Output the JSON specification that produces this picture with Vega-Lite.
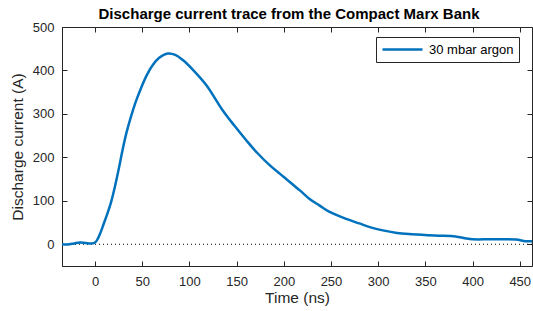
{
  "$schema": "https://vega.github.io/schema/vega-lite/v6.json",
  "width": 470,
  "height": 239,
  "autosize": {"type": "none"},
  "padding": {"left": 62, "top": 27, "right": 1, "bottom": 45},
  "background": "white",
  "title": {
    "text": "Discharge current trace from the Compact Marx Bank",
    "font": "Liberation Sans",
    "fontSize": 15,
    "fontWeight": "bold",
    "color": "#000000",
    "anchor": "middle",
    "dx": -8,
    "offset": -1
  },
  "config": {
    "view": {"stroke": "#262626", "strokeWidth": 1},
    "axis": {
      "domainColor": "#262626",
      "tickColor": "#262626",
      "labelColor": "#262626",
      "titleColor": "#262626",
      "labelFont": "Liberation Sans",
      "titleFont": "Liberation Sans",
      "labelFontSize": 13,
      "titleFontSize": 15.5,
      "titleFontWeight": "normal",
      "grid": false,
      "tickSize": -5,
      "domainWidth": 1,
      "tickWidth": 1
    }
  },
  "data": {
    "values": [
      {"t": -35, "i": 0, "s": "30 mbar argon"},
      {"t": -29, "i": -0.5, "s": "30 mbar argon"},
      {"t": -22, "i": 2, "s": "30 mbar argon"},
      {"t": -16, "i": 4, "s": "30 mbar argon"},
      {"t": -10, "i": 3, "s": "30 mbar argon"},
      {"t": -4, "i": 2, "s": "30 mbar argon"},
      {"t": 0, "i": 4, "s": "30 mbar argon"},
      {"t": 3, "i": 13, "s": "30 mbar argon"},
      {"t": 6, "i": 28, "s": "30 mbar argon"},
      {"t": 9, "i": 46, "s": "30 mbar argon"},
      {"t": 13, "i": 70, "s": "30 mbar argon"},
      {"t": 17, "i": 97, "s": "30 mbar argon"},
      {"t": 21, "i": 132, "s": "30 mbar argon"},
      {"t": 25, "i": 172, "s": "30 mbar argon"},
      {"t": 29, "i": 215, "s": "30 mbar argon"},
      {"t": 33, "i": 254, "s": "30 mbar argon"},
      {"t": 38, "i": 293, "s": "30 mbar argon"},
      {"t": 43, "i": 327, "s": "30 mbar argon"},
      {"t": 49, "i": 361, "s": "30 mbar argon"},
      {"t": 55, "i": 390, "s": "30 mbar argon"},
      {"t": 61, "i": 412, "s": "30 mbar argon"},
      {"t": 68, "i": 429, "s": "30 mbar argon"},
      {"t": 77, "i": 439, "s": "30 mbar argon"},
      {"t": 85, "i": 436, "s": "30 mbar argon"},
      {"t": 93, "i": 424, "s": "30 mbar argon"},
      {"t": 104, "i": 401, "s": "30 mbar argon"},
      {"t": 118, "i": 366, "s": "30 mbar argon"},
      {"t": 135, "i": 309, "s": "30 mbar argon"},
      {"t": 148, "i": 272, "s": "30 mbar argon"},
      {"t": 160, "i": 240, "s": "30 mbar argon"},
      {"t": 172, "i": 210, "s": "30 mbar argon"},
      {"t": 185, "i": 182, "s": "30 mbar argon"},
      {"t": 196, "i": 162, "s": "30 mbar argon"},
      {"t": 206, "i": 144, "s": "30 mbar argon"},
      {"t": 217, "i": 124, "s": "30 mbar argon"},
      {"t": 227, "i": 105, "s": "30 mbar argon"},
      {"t": 238, "i": 89, "s": "30 mbar argon"},
      {"t": 248, "i": 75, "s": "30 mbar argon"},
      {"t": 264, "i": 60, "s": "30 mbar argon"},
      {"t": 280, "i": 48, "s": "30 mbar argon"},
      {"t": 292, "i": 39, "s": "30 mbar argon"},
      {"t": 305, "i": 32, "s": "30 mbar argon"},
      {"t": 320, "i": 26, "s": "30 mbar argon"},
      {"t": 336, "i": 23, "s": "30 mbar argon"},
      {"t": 360, "i": 20, "s": "30 mbar argon"},
      {"t": 382, "i": 18, "s": "30 mbar argon"},
      {"t": 392, "i": 14, "s": "30 mbar argon"},
      {"t": 400, "i": 11.5, "s": "30 mbar argon"},
      {"t": 420, "i": 11.5, "s": "30 mbar argon"},
      {"t": 446, "i": 11, "s": "30 mbar argon"},
      {"t": 456, "i": 7, "s": "30 mbar argon"},
      {"t": 463, "i": 7, "s": "30 mbar argon"}
    ]
  },
  "layer": [
    {
      "mark": {"type": "rule", "color": "#000000", "strokeDash": [1, 3], "strokeWidth": 1},
      "data": {"values": [{"z": 0}]},
      "encoding": {
        "y": {
          "field": "z", "type": "quantitative",
          "scale": {"domain": [-50, 500], "nice": false, "zero": false},
          "axis": {"orient": "right", "labels": false, "title": null, "domain": false, "values": [0, 100, 200, 300, 400, 500]}
        }
      }
    },
    {
      "mark": {"type": "rule", "opacity": 0},
      "data": {"values": [{"z": 0}]},
      "encoding": {
        "x": {
          "field": "z", "type": "quantitative",
          "scale": {"domain": [-35, 463], "nice": false, "zero": false},
          "axis": {"orient": "top", "labels": false, "title": null, "domain": false, "values": [0, 50, 100, 150, 200, 250, 300, 350, 400, 450]}
        }
      }
    },
    {
      "mark": {"type": "line", "strokeWidth": 2.5, "interpolate": "catmull-rom", "clip": true},
      "encoding": {
        "x": {
          "field": "t", "type": "quantitative",
          "scale": {"domain": [-35, 463], "nice": false, "zero": false},
          "axis": {"orient": "bottom", "title": "Time (ns)", "values": [0, 50, 100, 150, 200, 250, 300, 350, 400, 450], "labelPadding": 14, "titlePadding": 2}
        },
        "y": {
          "field": "i", "type": "quantitative",
          "scale": {"domain": [-50, 500], "nice": false, "zero": false},
          "axis": {"orient": "left", "title": "Discharge current (A)", "values": [0, 100, 200, 300, 400, 500], "labelPadding": 13, "titlePadding": 7}
        },
        "color": {
          "field": "s", "type": "nominal",
          "scale": {"range": ["#0072BD"]},
          "legend": {
            "title": null,
            "orient": "none",
            "legendX": 314,
            "legendY": 10,
            "symbolType": "stroke",
            "symbolSize": 1600,
            "symbolStrokeWidth": 2.5,
            "clipHeight": 15,
            "labelFont": "Liberation Sans",
            "labelFontSize": 13,
            "labelColor": "#000000",
            "strokeColor": "#262626",
            "fillColor": "white",
            "padding": 5,
            "labelOffset": 5
          }
        }
      }
    }
  ],
  "resolve": {"axis": {"x": "independent", "y": "independent"}}
}
